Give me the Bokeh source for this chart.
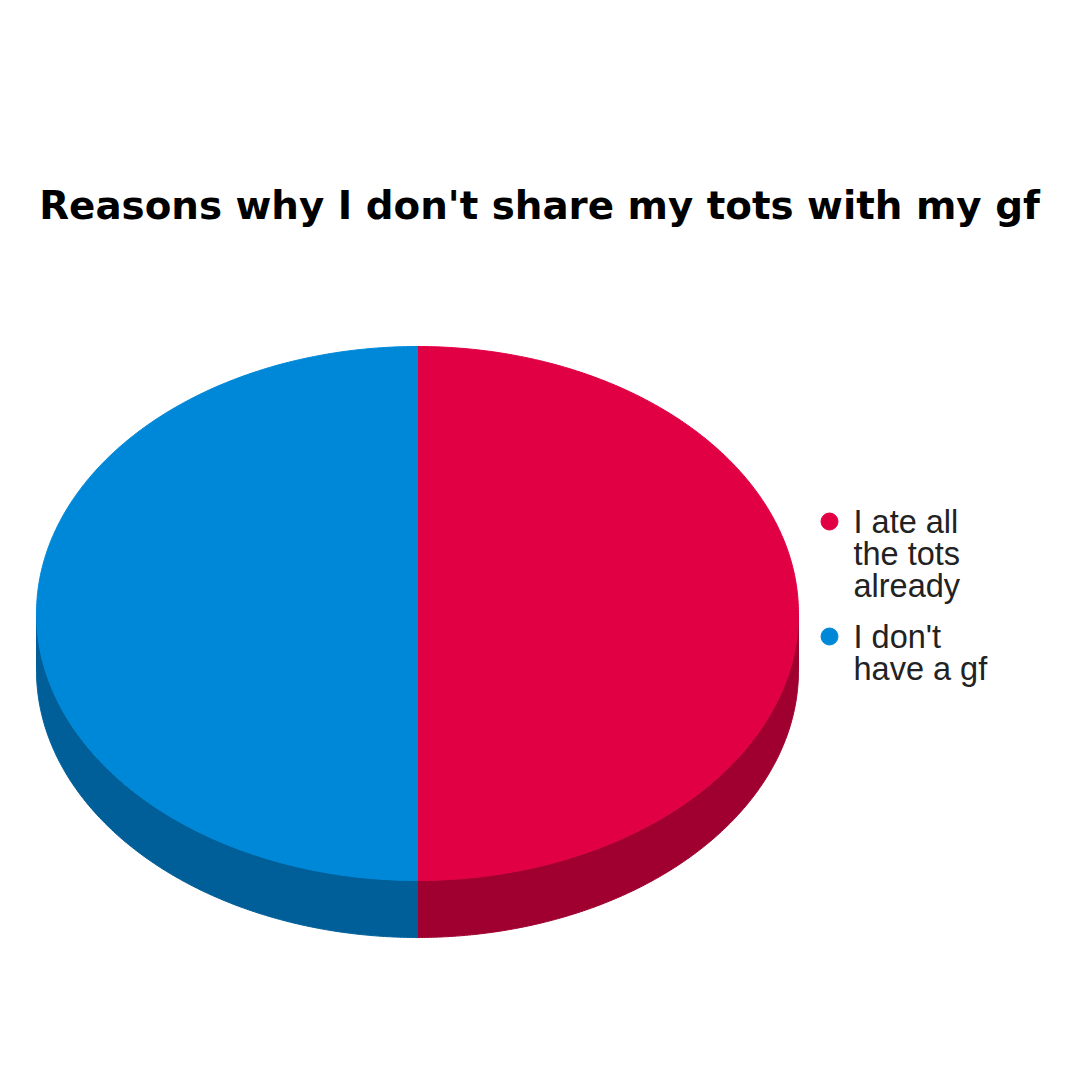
import numpy as np
from bokeh.plotting import figure
from bokeh.models import Range1d
from bokeh.core.properties import value
from bokeh.embed import file_html
from bokeh.resources import INLINE

title = "Reasons why I don't share my tots with my gf"
categories = ["I ate all\nthe tots\nalready", "I don't\nhave a gf"]
values = [50, 50]
top_colors = ["#E10044", "#0088D8"]
side_colors = ["#A0002F", "#005F99"]

W = H = 1080
cx, cy, rx, ry, depth = 417, 613, 381, 267, 57

p = figure(width=W, height=H, x_range=Range1d(0, W), y_range=Range1d(H, 0),
           output_backend="svg", toolbar_location=None, min_border=0)
p.axis.visible = False
p.grid.visible = False
p.outline_line_color = None
p.background_fill_color = "white"

total = float(sum(values))
start = 0.0
slices = []
for v in values:
    sweep = v / total * 2 * np.pi
    slices.append((start, start + sweep))
    start += sweep

def pt(a):
    return cx + rx * np.sin(a), cy - ry * np.cos(a)

for (a0, a1), col in zip(slices, side_colors):
    lo = max(a0, np.pi / 2)
    hi = min(a1, 3 * np.pi / 2)
    if hi <= lo:
        continue
    t = np.linspace(lo, hi, 200)
    xs, ys = pt(t)
    px = np.concatenate([xs, xs[::-1]])
    py = np.concatenate([ys, ys[::-1] + depth])
    p.patch(px, py, fill_color=col, line_color=col, line_width=1)

for (a0, a1), col in zip(slices, top_colors):
    t = np.linspace(a0, a1, 300)
    xs, ys = pt(t)
    px = np.concatenate([[cx], xs])
    py = np.concatenate([[cy], ys])
    p.patch(px, py, fill_color=col, line_color=col, line_width=1)

p.text(x=[539], y=[205], text=[title], text_align="center", text_baseline="middle",
       text_font=value("DejaVu Sans"), text_font_style="bold",
       text_font_size="38.8px", text_color="black")

ly0 = 521
for i, (lab, col) in enumerate(zip(categories, top_colors)):
    ly = ly0 + i * 115
    p.scatter([829], [ly], size=17, marker="circle", fill_color=col, line_color=col)
    for j, line in enumerate(lab.split("\n")):
        p.text(x=[853], y=[ly + j * 32], text=[line], text_align="left",
               text_baseline="middle", text_font=value("Liberation Sans"),
               text_font_size="32.5px", text_color="#222222")

open("out.html", "w").write(file_html(p, INLINE))
